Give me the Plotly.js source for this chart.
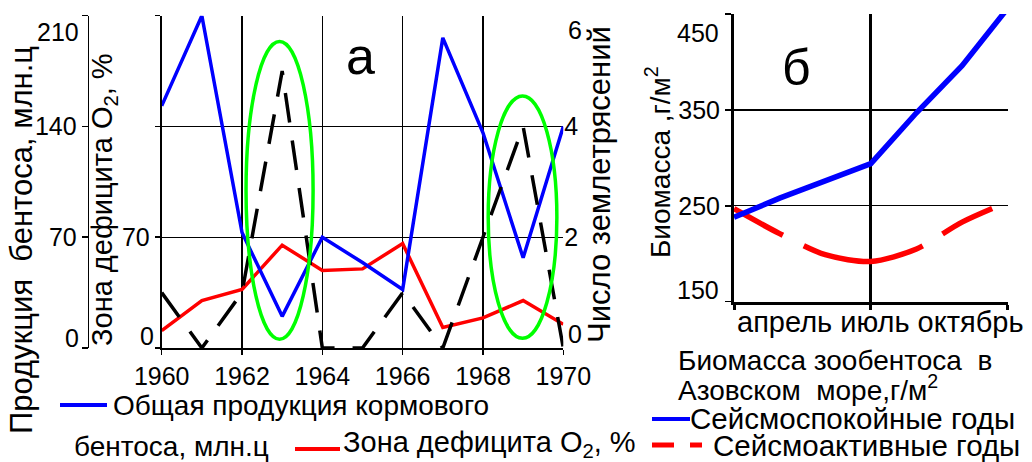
<!DOCTYPE html>
<html><head><meta charset="utf-8">
<script src="https://cdn.plot.ly/plotly-3.0.1.min.js"></script>
<style>html,body{margin:0;padding:0;background:#fff}#chart{width:1032px;height:462px}</style>
</head><body><div id="chart"></div>
<script>
// ---- Panel "а" data ----
const years = [1960,1961,1962,1963,1964,1965,1966,1967,1968,1969,1970];
const production = [153,210,73,20,70,54,37,196,136,57,140];      // млн.ц
const o2Zone = [11,30,37,65,49,50,66,13,19,30,15];               // %
const quakes = [1,0,1,5,0,0,1,0,2,4,0];                          // число землетрясений
const yearTicks = [1960,1962,1964,1966,1968,1970];
const prodTicks = [0,70,140,210];
const quakeTicks = [0,2,4,6];
// highlighted periods (ellipses)
const ellipseX0 = [1962.1, 1968.13];
const ellipseX1 = [1963.77, 1969.84];
const ellipseY0 = [5.5, 6.1];
const ellipseY1 = [193.7, 159.3];

// ---- Panel "б" data ----
const months = [0,1,2,3,4,5,6]; // апрель ... октябрь
const monthTicks = [0,3,6];
const monthLabels = ['апрель','июль','октябрь'];
const calmYears = [238,258,276,294,347,396,456];
const activeYears = [247,221,199,192,205,233,254];
const biomassTicks = [150,250,350,450];

const W = 1032, H = 462;
const X = px => px / W;
const Y = py => 1 - py / H;
const FF = 'Liberation Sans, Arial, sans-serif';

const traces = [
  {x: years, y: o2Zone, xaxis:'x', yaxis:'y', mode:'lines', line:{color:'rgb(255,0,0)', width:3.5}},
  {x: years, y: production, xaxis:'x', yaxis:'y2', mode:'lines', line:{color:'rgb(0,0,255)', width:3.5}},
  {x: years, y: quakes, xaxis:'x', yaxis:'y3', mode:'lines', line:{color:'#000', width:3.5, dash:'30px,18px'}},
  {x: months, y: activeYears, xaxis:'x2', yaxis:'y4', mode:'lines', line:{color:'rgb(255,0,0)', width:5.5, dash:'56px,23px,124px,23px', shape:'spline', smoothing:0.8}},
  {x: months, y: calmYears, xaxis:'x2', yaxis:'y4', mode:'lines', line:{color:'rgb(0,0,255)', width:5.5}}
];

const tickFont = {family: FF, size: 25, color: '#000'};
const inner = arr => arr.slice(1, -1);
const outer = arr => [arr[0], arr[arr.length-1]];
const gridStyle = {showgrid: true, gridcolor: '#000', gridwidth: 1.3};

const layout = {
  width: W, height: H,
  margin: {l:0, r:0, t:0, b:0},
  paper_bgcolor: '#fff', plot_bgcolor: '#fff',
  showlegend: false,
  font: {family: FF, color: '#000'},
  xaxis: {
    domain: [X(161.7), X(563.3)], range: [1960, 1970], anchor: 'y',
    tickmode: 'array', tickvals: yearTicks, ticktext: yearTicks.map(String), tickfont: tickFont,
    ticks: 'outside', ticklen: 5, tickwidth: 1.5, tickcolor: '#000',
    showline: true, linewidth: 2, linecolor: '#000',
    showgrid: true, gridcolor: '#000', gridwidth: 1.3, zeroline: false
  },
  yaxis: {
    domain: [Y(348), Y(15.7)], range: [0, 210], anchor: 'x',
    tickmode: 'array', tickvals: [prodTicks[1]], ticktext: [String(prodTicks[1])], tickfont: tickFont,
    ticks: 'outside', ticklen: 5, tickwidth: 1.5, tickcolor: '#000',
    showline: true, linewidth: 2, linecolor: '#000',
    showgrid: true, gridcolor: '#000', gridwidth: 1.3, zeroline: false,
    minor: Object.assign({tickmode: 'array', tickvals: [0,140,210], ticks: 'outside', ticklen: 5, tickwidth: 1.5, tickcolor: '#000'}, gridStyle)
  },
  yaxis2: {
    overlaying: 'y', anchor: 'free', position: X(87.7), side: 'left',
    range: [0, 210], tickmode: 'array', tickvals: inner(prodTicks), ticktext: inner(prodTicks).map(String), tickfont: tickFont,
    ticks: 'outside', ticklen: 6, tickwidth: 1.5, tickcolor: '#000',
    showline: true, linewidth: 1.5, linecolor: '#000', showgrid: false, zeroline: false,
    minor: {tickmode: 'array', tickvals: outer(prodTicks), ticks: 'outside', ticklen: 6, tickwidth: 1.5, tickcolor: '#000', showgrid: false}
  },
  yaxis3: {
    overlaying: 'y', anchor: 'x', side: 'right',
    range: [0, 6], tickmode: 'array', tickvals: inner(quakeTicks), ticktext: inner(quakeTicks).map(String), tickfont: tickFont,
    ticks: '', showline: false, showgrid: false, zeroline: false
  },
  xaxis2: {
    domain: [X(734), X(1007.7)], range: [0, 6], anchor: 'y4',
    tickmode: 'array', tickvals: monthTicks, showticklabels: false,
    ticks: 'outside', ticklen: 5, tickwidth: 3, tickcolor: '#000',
    showline: true, linewidth: 3, linecolor: '#000',
    showgrid: true, gridcolor: '#000', gridwidth: 3, zeroline: false
  },
  yaxis4: {
    domain: [Y(301.7), Y(14)], range: [150, 450], anchor: 'x2',
    tickmode: 'array', tickvals: inner(biomassTicks), ticktext: inner(biomassTicks).map(String), tickfont: tickFont,
    ticks: 'outside', ticklen: 6, tickwidth: 1.5, tickcolor: '#000',
    showline: true, linewidth: 3, linecolor: '#000',
    showgrid: true, gridcolor: '#000', gridwidth: 1.3, zeroline: false,
    minor: Object.assign({tickmode: 'array', tickvals: outer(biomassTicks), ticks: 'outside', ticklen: 6, tickwidth: 1.5, tickcolor: '#000'}, gridStyle)
  },
  shapes: [],
  annotations: []
};

// ellipses around seismically active periods
for (let i = 0; i < ellipseX0.length; i++) {
  layout.shapes.push({type:'circle', xref:'x', yref:'y', x0: ellipseX0[i], x1: ellipseX1[i],
    y0: ellipseY0[i], y1: ellipseY1[i], line:{color:'rgb(0,255,0)', width:3.5}, layer:'above'});
}

function txt(text, xpx, ypx, size, opts) {
  layout.annotations.push(Object.assign({
    text: text, xref:'paper', yref:'paper', x: X(xpx), y: Y(ypx),
    xanchor:'center', yanchor:'middle', showarrow:false,
    font:{family: FF, size: size, color:'#000'}
  }, opts || {}));
}

// extreme tick labels (shifted inward as in the original)
txt(String(prodTicks[0]), 81, 338, 25, {xanchor:'right'});
txt(String(prodTicks[3]), 81, 32, 25, {xanchor:'right'});
txt(String(prodTicks[0]), 156, 336, 25, {xanchor:'right'});
txt(String(quakeTicks[0]), 566, 334, 25, {xanchor:'left'});
txt(String(quakeTicks[3]), 566, 30, 25, {xanchor:'left'});
txt(String(biomassTicks[0]), 721, 290, 25, {xanchor:'right'});
txt(String(biomassTicks[3]), 721, 33, 25, {xanchor:'right'});

// axis titles
txt('Продукция  бентоса, млн.ц', 22, 240, 31, {textangle:-90});
txt('Зона дефицита O<sub>2</sub>, %', 104, 200, 29, {textangle:-90});
txt('Число землетрясений', 600, 185, 31, {textangle:-90});
txt('Биомасса ,г/м<sup>2</sup>', 658, 162, 28, {textangle:-90});

// panel letters
txt('а', 360, 56, 52);
txt('б', 796, 68, 50);

// month labels
txt(monthLabels.join(' '), 735, 322, 29, {xanchor:'left'});
txt('Биомасса зообентоса  в', 676, 360, 28, {xanchor:'left'});
txt('Азовском  море,г/м<sup>2</sup>', 676, 388, 28, {xanchor:'left'});

// left legend
layout.shapes.push({type:'line', xref:'paper', yref:'paper', x0:X(60), x1:X(107), y0:Y(405), y1:Y(405), line:{color:'rgb(0,0,255)', width:4}});
txt('Общая продукция кормового', 111, 405, 28, {xanchor:'left'});
txt('бентоса, млн.ц', 72, 446, 28, {xanchor:'left'});
layout.shapes.push({type:'line', xref:'paper', yref:'paper', x0:X(295), x1:X(340), y0:Y(449), y1:Y(449), line:{color:'rgb(255,0,0)', width:4}});
txt('Зона дефицита O<sub>2</sub>, %', 341, 444, 29, {xanchor:'left'});

// right legend
layout.shapes.push({type:'line', xref:'paper', yref:'paper', x0:X(652), x1:X(690), y0:Y(419), y1:Y(419), line:{color:'rgb(0,0,255)', width:4}});
txt('Сейсмоспокойные годы', 688, 418, 29.5, {xanchor:'left'});
layout.shapes.push({type:'line', xref:'paper', yref:'paper', x0:X(652), x1:X(674), y0:Y(445), y1:Y(445), line:{color:'rgb(255,0,0)', width:5}});
layout.shapes.push({type:'line', xref:'paper', yref:'paper', x0:X(690), x1:X(702), y0:Y(445), y1:Y(445), line:{color:'rgb(255,0,0)', width:5}});
txt('Сейсмоактивные годы', 711, 445, 29.5, {xanchor:'left'});

Plotly.newPlot('chart', traces, layout, {staticPlot:true, displayModeBar:false});
</script>
</body></html>
